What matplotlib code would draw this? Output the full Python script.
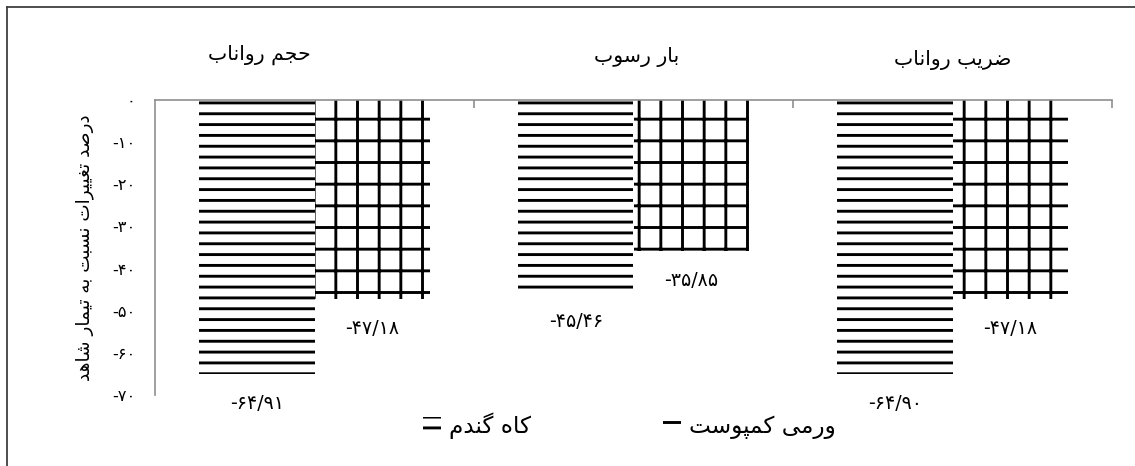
import matplotlib
matplotlib.use('Agg')
import matplotlib.pyplot as plt
from matplotlib.patches import Patch
from matplotlib.lines import Line2D

# ---------------- data ----------------
categories = ['حجم رواناب', 'بار رسوب', 'ضریب رواناب']
series_names = ['کاه گندم', 'ورمی کمپوست']
wheat_straw = [-64.91, -45.46, -64.90]
vermicompost = [-47.18, -35.85, -47.18]
y_ticks = [0, -10, -20, -30, -40, -50, -60, -70]
y_label = 'درصد تغییرات نسبت به تیمار شاهد'

# ---------------- Persian shaping helpers ----------------
FORMS = {
    'ا': ('\uFE8D', '\uFE8E', None, None),
    'ب': ('\uFE8F', '\uFE90', '\uFE91', '\uFE92'),
    'پ': ('\uFB56', '\uFB57', '\uFB58', '\uFB59'),
    'ت': ('\uFE95', '\uFE96', '\uFE97', '\uFE98'),
    'ج': ('\uFE9D', '\uFE9E', '\uFE9F', '\uFEA0'),
    'ح': ('\uFEA1', '\uFEA2', '\uFEA3', '\uFEA4'),
    'د': ('\uFEA9', '\uFEAA', None, None),
    'ر': ('\uFEAD', '\uFEAE', None, None),
    'س': ('\uFEB1', '\uFEB2', '\uFEB3', '\uFEB4'),
    'ش': ('\uFEB5', '\uFEB6', '\uFEB7', '\uFEB8'),
    'ص': ('\uFEB9', '\uFEBA', '\uFEBB', '\uFEBC'),
    'ض': ('\uFEBD', '\uFEBE', '\uFEBF', '\uFEC0'),
    'غ': ('\uFECD', '\uFECE', '\uFECF', '\uFED0'),
    'ک': ('\uFB8E', '\uFB8F', '\uFB90', '\uFB91'),
    'گ': ('\uFB92', '\uFB93', '\uFB94', '\uFB95'),
    'م': ('\uFEE1', '\uFEE2', '\uFEE3', '\uFEE4'),
    'ن': ('\uFEE5', '\uFEE6', '\uFEE7', '\uFEE8'),
    'ه': ('\uFEE9', '\uFEEA', '\uFEEB', '\uFEEC'),
    'و': ('\uFEED', '\uFEEE', None, None),
    'ی': ('\uFBFC', '\uFBFD', '\uFBFE', '\uFBFF'),
}


def shape(text):
    out = []
    n = len(text)
    for i, ch in enumerate(text):
        if ch not in FORMS:
            out.append(ch)
            continue
        iso, fin, ini, med = FORMS[ch]
        prev = text[i - 1] if i > 0 else ''
        nxt = text[i + 1] if i < n - 1 else ''
        jp = prev in FORMS and FORMS[prev][2] is not None
        jn = nxt in FORMS and ini is not None
        if jp and jn:
            out.append(med)
        elif jp:
            out.append(fin)
        elif jn:
            out.append(ini)
        else:
            out.append(iso)
    return ''.join(out)[::-1]


PDIG = str.maketrans('0123456789.', '۰۱۲۳۴۵۶۷۸۹/')


def pnum(v, fmt):
    return (fmt % v).translate(PDIG)


# ---------------- figure ----------------
DPI = 130
plt.rcParams['font.family'] = ['DejaVu Sans']
plt.rcParams['hatch.linewidth'] = 1.6
fig = plt.figure(figsize=(1135 / DPI, 466 / DPI), dpi=DPI)
W, H = 1135, 466
ax = fig.add_axes([155 / W, 1 - 395 / H, (1112 - 155) / W, (395 - 100) / H])

x = list(range(len(categories)))
bw = 0.362
ax.bar([i - bw / 2 for i in x], wheat_straw, width=bw, facecolor='white',
       edgecolor='black', linewidth=0, hatch='--')
ax.bar([i + bw / 2 for i in x], vermicompost, width=bw, facecolor='white',
       edgecolor='black', linewidth=0, hatch='+')

ax.set_xlim(-0.5, 2.5)
ax.set_ylim(-70, 0)

gray = '#8c8c8c'
for s in ['right', 'bottom']:
    ax.spines[s].set_visible(False)
for s in ['top', 'left']:
    ax.spines[s].set_color(gray)
    ax.spines[s].set_linewidth(0.9)

ax.xaxis.tick_top()
ax.set_xticks([0.5, 1.5, 2.5])
ax.set_xticklabels([])
ax.tick_params(axis='x', direction='in', length=4.5, color=gray, width=0.9)

ax.set_yticks(y_ticks)
ax.set_yticklabels([pnum(t, '%d') for t in y_ticks], fontsize=9)
ax.tick_params(axis='y', length=0, pad=11)

ax.set_ylabel(shape(y_label), fontsize=10.2, va='center')
ax.yaxis.set_label_coords((85 - 155) / (1112 - 155), 0.5)

# category titles above groups
title_x = [-0.174, 1.01, 2.0]
title_y = [55, 57, 60]
for i, name in enumerate(categories):
    ax.text(title_x[i], 1 + (100 - title_y[i]) / (395 - 100), shape(name),
            transform=ax.get_xaxis_transform(), ha='center', va='center',
            fontsize=11.3)

# data labels below bars
for i in x:
    ax.annotate(pnum(wheat_straw[i], '%.2f'), (i - bw / 2, wheat_straw[i]),
                xytext=(0, -16.5), textcoords='offset points',
                ha='center', va='center', fontsize=10.5)
    ax.annotate(pnum(vermicompost[i], '%.2f'), (i + bw / 2, vermicompost[i]),
                xytext=(0, -16.5), textcoords='offset points',
                ha='center', va='center', fontsize=10.5)

# legend
lfs = 12.8
pxu = lfs * DPI / 72
handles = [Patch(facecolor='white', edgecolor='black', linewidth=0, hatch='--'),
           Patch(facecolor='white', edgecolor='black', linewidth=0, hatch='+')]
fig.legend(handles, [shape(s) for s in series_names], loc='center left',
           bbox_to_anchor=(423 / W, 1 - 426 / H), ncol=2, frameon=False,
           fontsize=lfs, borderpad=0, borderaxespad=0,
           handlelength=18 / pxu, handleheight=0.7,
           handletextpad=8 / pxu, columnspacing=132 / pxu)

# outer frame (left and top edges)
fig.add_artist(Line2D([7 / W, 7 / W], [0, 1 - 7 / H], transform=fig.transFigure,
                      color='#404040', linewidth=1.0))
fig.add_artist(Line2D([7 / W, 1], [1 - 7 / H, 1 - 7 / H], transform=fig.transFigure,
                      color='#404040', linewidth=1.0))

fig.savefig('out.png', dpi=DPI, facecolor='white')
